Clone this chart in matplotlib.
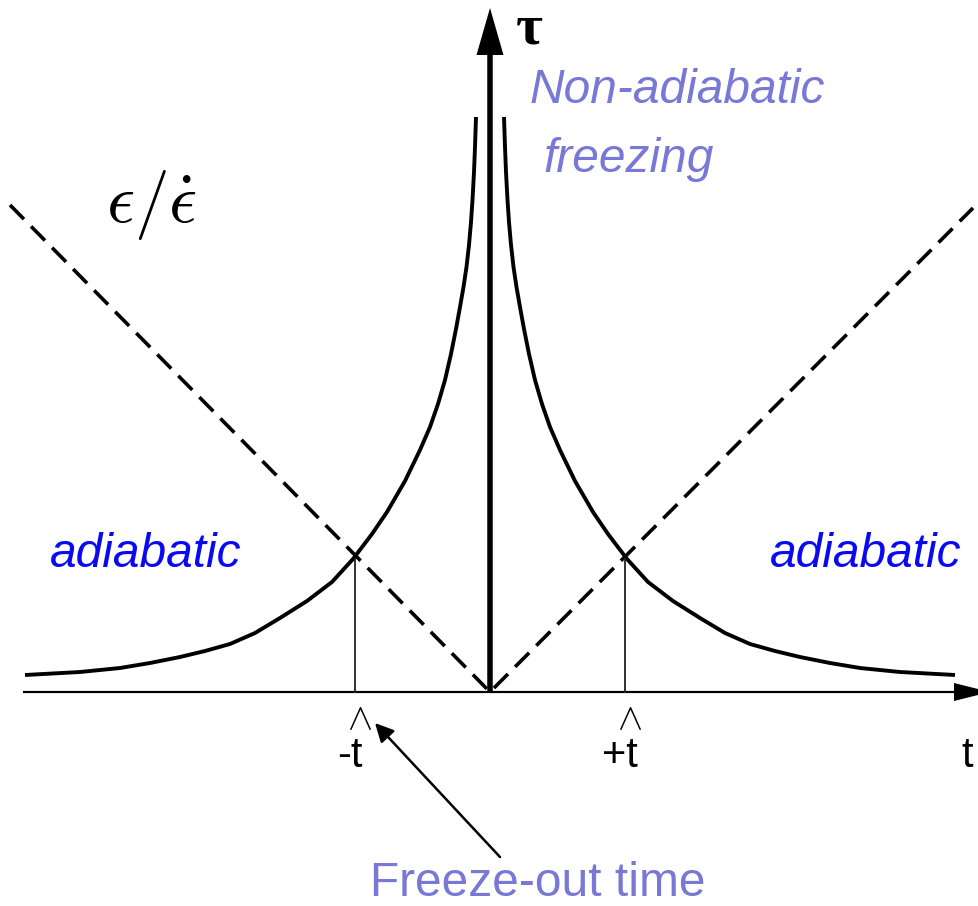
import matplotlib.pyplot as plt

plt.rcParams['mathtext.fontset'] = 'cm'

# relaxation time tau(t) on the t > 0 branch, mirrored for t < 0
t_curve = [0.14, 0.15, 0.16, 0.175, 0.19, 0.21, 0.235, 0.265, 0.30, 0.34,
           0.39, 0.45, 0.52, 0.60, 0.70, 0.85, 1.03, 1.18, 1.37, 1.58,
           1.83, 2.10, 2.35, 2.60, 2.85, 3.10, 3.40, 3.70, 4.10, 4.65]
tau_curve = [5.75, 5.45, 5.20, 4.92, 4.70, 4.47, 4.25, 4.05, 3.85, 3.63,
             3.38, 3.12, 2.88, 2.65, 2.42, 2.11, 1.80, 1.58, 1.33, 1.10,
             0.91, 0.74, 0.59, 0.48, 0.41, 0.35, 0.29, 0.24, 0.20, 0.17]

# epsilon / epsilon-dot, the time left until the transition
t_rate = [-4.80, 0.0, 4.83]
tau_rate = [4.87, 0.0, 4.84]

# freeze-out points where the two curves cross
t_hat = [-1.35, 1.35]
tau_hat = [1.33, 1.33]
hat_labels = ['-t', '+t']
hat_label_t = [-1.40, 1.30]

fig = plt.figure(figsize=(9.79, 9.06), dpi=100)
ax = fig.add_axes([0, 0, 1, 1])
ax.set_xlim(-4.90, 4.89)
ax.set_ylim(-2.14, 6.92)
ax.axis('off')

ax.plot(t_curve, tau_curve, color='black', lw=2.8, solid_capstyle='butt',
        solid_joinstyle='round')
ax.plot([-t for t in t_curve], tau_curve, color='black', lw=2.8,
        solid_capstyle='butt', solid_joinstyle='round')
ax.plot(t_rate, tau_rate, color='black', lw=2.6, dashes=(5.5, 2.8))

for t, tau in zip(t_hat, tau_hat):
    ax.plot([t, t], [0, tau], color='#222222', lw=1.3)

# axes with arrow heads
ax.arrow(-4.67, 0, 9.67, 0, width=0.022, head_width=0.18, head_length=0.36,
         length_includes_head=True, color='black', lw=0)
ax.arrow(0, 0, 0, 6.84, width=0.055, head_width=0.27, head_length=0.47,
         length_includes_head=True, color='black', lw=0)

ax.text(0.39, 6.62, '\u03c4', fontsize=42, family='Liberation Serif',
        weight='bold', ha='center', va='center')
ax.text(4.77, -0.75, 't', fontsize=30, family='Liberation Sans',
        ha='center', va='baseline')
ax.text(-3.38, 4.87, r'$\epsilon/\dot{\epsilon}$', fontsize=50,
        ha='center', va='center')

for t, lab, lt in zip(t_hat, hat_labels, hat_label_t):
    ax.text(t + 0.04, -0.265, r'$\wedge$', fontsize=27, ha='center',
            va='center')
    ax.text(lt, -0.75, lab, fontsize=30, family='Liberation Sans',
            ha='center', va='baseline')

label_font = dict(family='Liberation Sans', fontsize=34.5, style='italic')
ax.text(0.40, 5.89, 'Non-adiabatic', color='#7878d6', **label_font)
ax.text(0.53, 5.20, 'freezing', color='#7878d6', **label_font)
ax.text(-4.40, 1.25, 'adiabatic', color='#0a0af0', **label_font)
ax.text(2.80, 1.25, 'adiabatic', color='#0a0af0', **label_font)

ax.text(-1.20, -2.04, 'Freeze-out time', color='#7878d6',
        family='Liberation Sans', fontsize=34.5)
ax.annotate('', xy=(-1.15, -0.31), xytext=(0.10, -1.65),
            arrowprops=dict(arrowstyle='-|>', color='black', lw=1.8,
                            mutation_scale=28, shrinkA=0, shrinkB=0))

fig.savefig('out.png', dpi=100)
